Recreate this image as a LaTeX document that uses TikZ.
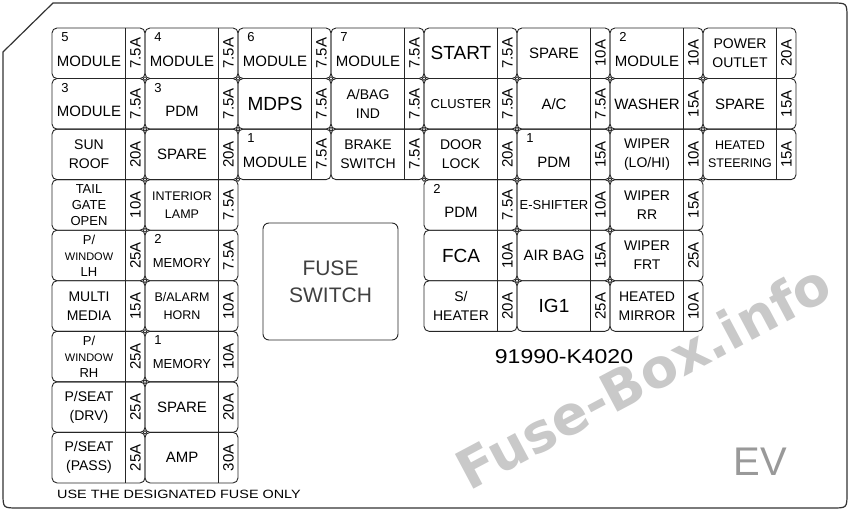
\documentclass[tikz,border=0pt]{standalone}
\usepackage{fontspec}
\setmainfont{Liberation Sans}
\newfontfamily\wmfont{DejaVu Sans}
\newcommand\fuse[6][]{%
  \pgfmathsetmacro\fx{52+93*#2}%
  \pgfmathsetmacro\fy{28+50.55*#3}%
  \draw[cellbox] (\fx,\fy) rectangle ++(93,50.55);
  \draw[divline] (\fx+73,\fy) -- ++(0,50.55);
  \node[rating] (r#2#3) at (\fx+83.5,\fy+25.3) {#5};
  \if\relax\detokenize{#6}\relax
    \node[lbl,#1] (l#2#3) at (\fx+37,\fy+25.3) {#4};
  \else
    \node[num] (n#2#3) at (\fx+13,\fy+9) {#6};
    \node[lbl,#1] (l#2#3) at (\fx+37,\fy+33) {#4};
  \fi
}
\begin{document}
\begin{tikzpicture}[x=1pt,y=-1pt,
  cellbox/.style={draw=black!85, line width=0.9pt, rounded corners=5pt},
  divline/.style={draw=black!85, line width=0.9pt},
  rating/.style={rotate=90, inner sep=0pt, font=\fontsize{15}{15}\selectfont},
  num/.style={inner sep=0pt, font=\fontsize{13}{13}\selectfont},
  lbl/.style={align=center, inner sep=0pt, font=\fontsize{15}{18}\selectfont},
  big/.style={font=\fontsize{19}{22}\selectfont},
  two/.style={font=\fontsize{14}{19}\selectfont},
  twosm/.style={font=\fontsize{12.5}{18}\selectfont},
  three/.style={font=\fontsize{13}{16}\selectfont},
  small/.style={font=\fontsize{13}{16}\selectfont},
  junc/.style={fill=white, draw=black!85, line width=0.7pt},
  outer/.style={draw=black!80, line width=1.2pt}
]
\useasboundingbox (0,0) rectangle (850,513);
% outer board outline
\draw[outer] (3,52) -- (53,3) -- (832,3) .. controls (847,3) .. (847,18)
  -- (847,493) .. controls (847,508) .. (832,508) -- (18,508)
  .. controls (3,508) .. (3,493) -- cycle;
% row 0
\fuse{0}{0}{MODULE}{7.5A}{5}
\fuse{1}{0}{MODULE}{7.5A}{4}
\fuse{2}{0}{MODULE}{7.5A}{6}
\fuse{3}{0}{MODULE}{7.5A}{7}
\fuse[big]{4}{0}{START}{7.5A}{}
\fuse{5}{0}{SPARE}{10A}{}
\fuse{6}{0}{MODULE}{10A}{2}
\fuse[two]{7}{0}{POWER\\OUTLET}{20A}{}
% row 1
\fuse{0}{1}{MODULE}{7.5A}{3}
\fuse{1}{1}{PDM}{7.5A}{3}
\fuse[big]{2}{1}{MDPS}{7.5A}{}
\fuse[two]{3}{1}{A/BAG\\IND}{7.5A}{}
\fuse[small]{4}{1}{CLUSTER}{7.5A}{}
\fuse{5}{1}{A/C}{7.5A}{}
\fuse{6}{1}{WASHER}{15A}{}
\fuse{7}{1}{SPARE}{15A}{}
% row 2
\fuse[two]{0}{2}{SUN\\ROOF}{20A}{}
\fuse{1}{2}{SPARE}{20A}{}
\fuse{2}{2}{MODULE}{7.5A}{1}
\fuse[two]{3}{2}{BRAKE\\SWITCH}{7.5A}{}
\fuse[two]{4}{2}{DOOR\\LOCK}{20A}{}
\fuse{5}{2}{PDM}{15A}{1}
\fuse[two]{6}{2}{WIPER\\(LO/HI)}{10A}{}
\fuse[twosm]{7}{2}{HEATED\\STEERING}{15A}{}
% row 3
\fuse[three]{0}{3}{TAIL\\GATE\\OPEN}{10A}{}
\fuse[twosm]{1}{3}{INTERIOR\\LAMP}{7.5A}{}
\fuse{4}{3}{PDM}{7.5A}{2}
\fuse[small]{5}{3}{E-SHIFTER}{10A}{}
\fuse[two]{6}{3}{WIPER\\RR}{15A}{}
% row 4
\fuse[three]{0}{4}{P/\\{\fontsize{11}{13}\selectfont WINDOW}\\LH}{25A}{}
\fuse[small]{1}{4}{MEMORY}{7.5A}{2}
\fuse[big]{4}{4}{FCA}{10A}{}
\fuse{5}{4}{AIR BAG}{15A}{}
\fuse[two]{6}{4}{WIPER\\FRT}{25A}{}
% row 5
\fuse[two]{0}{5}{MULTI\\MEDIA}{15A}{}
\fuse[twosm]{1}{5}{B/ALARM\\HORN}{10A}{}
\fuse[two]{4}{5}{S/\\HEATER}{20A}{}
\fuse[big]{5}{5}{IG1}{25A}{}
\fuse[two]{6}{5}{HEATED\\MIRROR}{10A}{}
% row 6
\fuse[three]{0}{6}{P/\\{\fontsize{11}{13}\selectfont WINDOW}\\RH}{25A}{}
\fuse[small]{1}{6}{MEMORY}{10A}{1}
% row 7
\fuse[two]{0}{7}{P/SEAT\\(DRV)}{25A}{}
\fuse{1}{7}{SPARE}{20A}{}
% row 8
\fuse[two]{0}{8}{P/SEAT\\(PASS)}{25A}{}
\fuse{1}{8}{AMP}{30A}{}
% junction dots
\foreach \j in {1,2} \foreach \i in {1,...,7} {\draw[junc] (52+93*\i,28+50.55*\j) circle (1.8);}
\foreach \i in {1,2,4,5,6,7} {\draw[junc] (52+93*\i,28+50.55*3) circle (1.8);}
\foreach \j in {4,5} \foreach \i in {1,5,6} {\draw[junc] (52+93*\i,28+50.55*\j) circle (1.8);}
\foreach \j in {6,7,8} {\draw[junc] (52+93,28+50.55*\j) circle (1.8);}
% fuse switch
\node[draw=black!85, line width=0.9pt, rounded corners=6pt, minimum width=135pt, minimum height=117pt,
  align=center, text=black!75, font=\fontsize{21}{27}\selectfont] (fs) at (330.5,281.5) {FUSE\\SWITCH};
% texts
\node[inner sep=0pt, font=\fontsize{20}{22}\selectfont, xscale=1.15] (pn) at (564,357) {91990-K4020};
\node[inner sep=0pt, font=\fontsize{12}{14}\selectfont, xscale=1.2] (use) at (179,494) {USE THE DESIGNATED FUSE ONLY};
\node[inner sep=0pt, font=\fontsize{40}{40}\selectfont, text=black!40] (ev) at (760,462) {EV};
% watermark
\node[inner sep=0pt, rotate=28, font=\wmfont\bfseries\fontsize{54}{54}\selectfont, text=black!25, opacity=0.85] (wm) at (643,376) {Fuse-Box.info};
\end{tikzpicture}
\end{document}
